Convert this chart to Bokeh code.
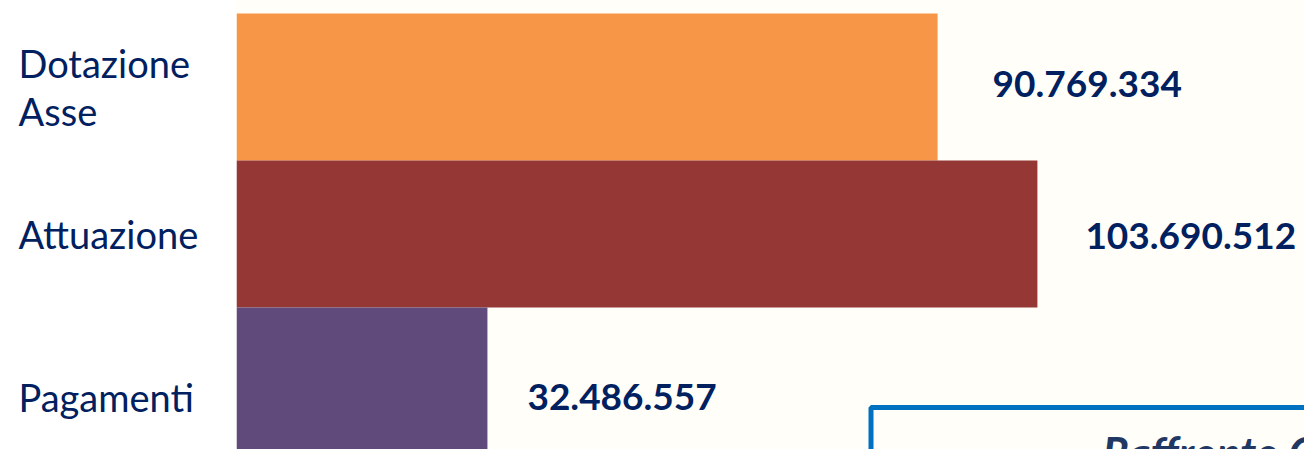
from bokeh.plotting import figure
from bokeh.layouts import row
from bokeh.models import Range1d, Label, BoxAnnotation, ColumnDataSource
from bokeh.core.properties import value
from bokeh.embed import file_html
from bokeh.resources import INLINE

# ---- data ----
categories = ["Dotazione\nAsse", "Attuazione", "Pagamenti"]
values = [90769334, 103690512, 32486557]
value_labels = ["90.769.334", "103.690.512", "32.486.557"]
colors = ["#F79646", "#953735", "#604A7B"]
box_title = "Raffronto C"

# ---- layout / style ----
W, H = 1304, 449
LEFT = 236
PX_PER_UNIT = 7.724e-6
ROW_PX = 147
TOP_PAD = 13
label_shift_px = [0, 0, 16]
value_shift_px = [-3, 2, 16]
value_gap_px = [55, 48, 40]

RIGHT_W = W - LEFT
x_end = RIGHT_W / PX_PER_UNIT
y_top = -0.5 - TOP_PAD / ROW_PX
y_bot = y_top + H / ROW_PX
y_range = Range1d(y_bot, y_top)

NAVY = "#002060"
FONT = "Lato"
rows = list(range(len(categories)))

# ---- left panel with category names ----
pl = figure(width=LEFT, height=H, output_backend="svg", toolbar_location=None,
            x_range=Range1d(0, LEFT), y_range=y_range,
            x_axis_location=None, y_axis_location=None,
            min_border=0)
pl.grid.visible = False
pl.outline_line_color = None
pl.background_fill_color = "#FFFFFF"
pl.border_fill_color = "#FFFFFF"
lsrc = ColumnDataSource(dict(
    x=[18] * len(rows), text=categories,
    y=[r + s / ROW_PX for r, s in zip(rows, label_shift_px)],
))
pl.text(x="x", y="y", text="text", source=lsrc,
        text_align="left", text_baseline="middle",
        text_font=value(FONT), text_font_size="38px", text_color=NAVY,
        text_line_height=1.06)

# ---- main bar panel ----
p = figure(width=RIGHT_W, height=H, output_backend="svg", toolbar_location=None,
           x_range=Range1d(0, x_end), y_range=y_range,
           x_axis_location=None, y_axis_location=None,
           min_border=0)
p.grid.visible = False
p.outline_line_color = None
p.background_fill_color = "#FFFEF8"
p.border_fill_color = "#FFFEF8"

src = ColumnDataSource(dict(
    y=rows, right=values, color=colors, text=value_labels,
    tx=[v + g / PX_PER_UNIT for v, g in zip(values, value_gap_px)],
    ty=[r + s / ROW_PX for r, s in zip(rows, value_shift_px)],
))
p.hbar(y="y", left=0, right="right", height=1.0, color="color", line_color=None, source=src)
p.text(x="tx", y="ty", text="text", source=src,
       text_baseline="middle", text_align="left",
       text_font=value(FONT), text_font_style="bold", text_font_size="37px",
       text_color=NAVY)

# decorative framed box at bottom right
box_left = (870.5 - LEFT) / PX_PER_UNIT
box_top = y_top + 407 / ROW_PX
p.add_layout(BoxAnnotation(left=box_left, right=x_end * 1.2, top=box_top, bottom=y_bot + 1,
                           fill_color=None, fill_alpha=0, line_color="#0070C0",
                           line_alpha=1.0, line_width=5))
p.add_layout(Label(x=(1102 - LEFT) / PX_PER_UNIT, y=y_top + 451 / ROW_PX, text=box_title,
                   text_align="left", text_baseline="alphabetic",
                   text_font=FONT, text_font_style="bold italic", text_font_size="44px",
                   text_color="#1F3864"))

layout = row(pl, p, spacing=0)
open("out.html", "w").write(file_html(layout, INLINE))
